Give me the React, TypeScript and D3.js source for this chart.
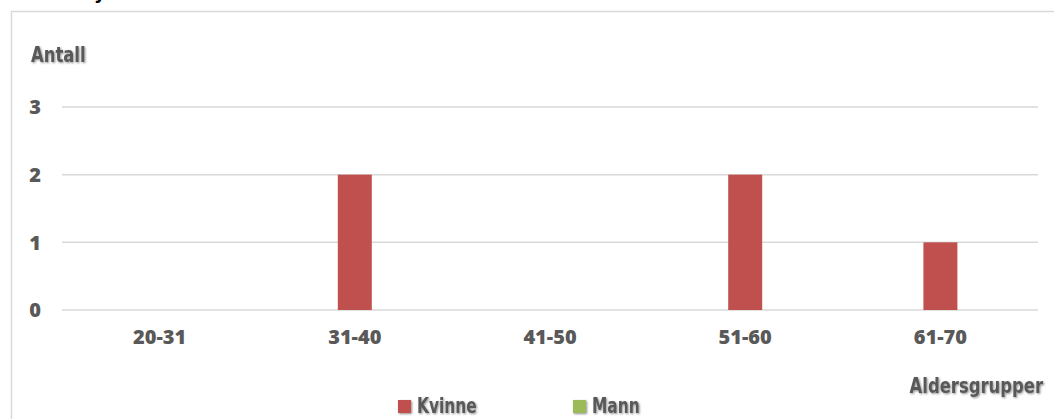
import React from "react";
import * as d3 from "d3";

const categories = ["20-31", "31-40", "41-50", "51-60", "61-70"];
const kvinne = [0, 2, 0, 2, 1];
const mann = [0, 0, 0, 0, 0];
const yTicks = [0, 1, 2, 3];
const seriesNames = ["Kvinne", "Mann"];
const seriesColors = ["#C0504D", "#9BBB59"];

const W = 1054;
const H = 419;
const left = 62;
const right = 1038;
const top = 107;
const bottom = 310;

export default function App() {
  const x = d3.scaleBand<string>().domain(categories).range([left, right]);
  const y = d3.scaleLinear().domain([0, 3]).range([bottom, top]);
  const barW = 34;
  const tickFont = "'Open Sans', 'DejaVu Sans', sans-serif";
  const narrow = "'DejaVu Sans Condensed', 'DejaVu Sans', sans-serif";
  const grey = "#595959";
  return (
    <svg
      width={W}
      height={H}
      style={{ position: "fixed", left: 0, top: 0, background: "#fff" }}
    >
      <defs>
        <filter id="sh" x="-10%" y="-20%" width="130%" height="150%">
          <feGaussianBlur in="SourceAlpha" stdDeviation="0.8" />
          <feOffset dx="1" dy="1" result="b" />
          <feComponentTransfer>
            <feFuncA type="linear" slope="0.45" />
          </feComponentTransfer>
          <feMerge>
            <feMergeNode />
            <feMergeNode in="SourceGraphic" />
          </feMerge>
        </filter>
      </defs>
      <rect x={0} y={0} width={W} height={H} fill="#fff" />
      <text x={94} y={-1} fontSize={20} fontWeight="bold" fontFamily={narrow} fill="#000">
        y
      </text>
      <rect x={11.5} y={11.5} width={W + 20} height={H + 20} fill="none" stroke="#D9D9D9" strokeWidth={1.5} />
      {yTicks.map((t) => (
        <g key={t}>
          <line x1={left} x2={right} y1={y(t)} y2={y(t)} stroke="#D9D9D9" strokeWidth={1.5} />
          <text
            x={35}
            y={y(t)}
            dy="0.36em"
            textAnchor="middle"
            fontFamily={tickFont}
            fontWeight={800}
            fontSize={20}
            fill={grey}
          >
            {t}
          </text>
        </g>
      ))}
      {categories.map((c, i) => {
        const cx = (x(c) as number) + x.bandwidth() / 2;
        return (
          <g key={c}>
            <rect
              x={cx - barW / 2}
              y={y(kvinne[i])}
              width={barW}
              height={bottom - y(kvinne[i])}
              fill={seriesColors[0]}
            />
            <rect
              x={cx + barW / 2}
              y={y(mann[i])}
              width={barW}
              height={bottom - y(mann[i])}
              fill={seriesColors[1]}
            />
            <text
              x={cx}
              y={344}
              textAnchor="middle"
              fontFamily={tickFont}
              fontWeight={800}
              fontSize={20}
              fill={grey}
            >
              {c}
            </text>
          </g>
        );
      })}
      <g filter="url(#sh)">
        <text transform="translate(31,62) scale(0.83,1)" fontFamily={narrow} fontWeight="bold" fontSize={22} fill={grey}>
          Antall
        </text>
        <text transform="translate(1043,393) scale(0.83,1)" textAnchor="end" fontFamily={narrow} fontWeight="bold" fontSize={22} fill={grey}>
          Aldersgrupper
        </text>
        {seriesNames.map((s, i) => {
          const lx = [398, 573][i];
          return (
            <g key={s}>
              <rect x={lx} y={400} width={13} height={13} fill={seriesColors[i]} />
              <text transform={`translate(${lx + 19},413) scale(0.78,1)`} fontFamily={narrow} fontWeight="bold" fontSize={22} fill={grey}>
                {s}
              </text>
            </g>
          );
        })}
      </g>
    </svg>
  );
}
